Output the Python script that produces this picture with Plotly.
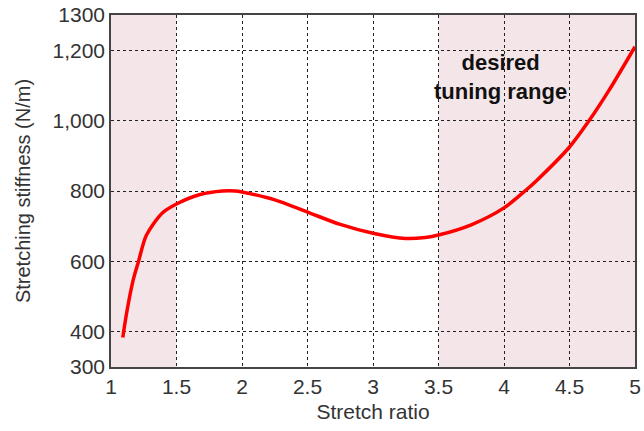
import plotly.graph_objects as go

# Curve data
stretch_ratio = [1.09, 1.12, 1.17, 1.21, 1.27, 1.39, 1.5, 1.68, 1.85, 1.95, 2.0, 2.25, 2.5,
                 2.75, 3.0, 3.25, 3.4, 3.5, 3.75, 4.0, 4.16, 4.25, 4.5, 4.65, 4.8, 5.0]
stiffness = [384, 455, 548, 600, 674, 737, 763, 790, 800, 800, 797, 775, 740,
             705, 680, 665, 668, 675, 704, 752, 800, 830, 925, 1000, 1085, 1210]

shade_ranges = [(1.0, 1.5), (3.5, 5.0)]

x_ticks = [1, 1.5, 2, 2.5, 3, 3.5, 4, 4.5, 5]
x_tick_text = ["1", "1.5", "2", "2.5", "3", "3.5", "4", "4.5", "5"]
y_ticks = [300, 400, 600, 800, 1000, 1200, 1300]
y_tick_text = ["300", "400", "600", "800", "1,000", "1,200", "1300"]

annotation_text = "<b>desired<br>tuning range</b>"
annotation_pos = (3.97, 1124)

font_family = "Liberation Sans, Arial, sans-serif"

fig = go.Figure()
fig.add_trace(go.Scatter(x=stretch_ratio, y=stiffness, mode="lines",
                         line=dict(color="#ff0000", width=3.5, shape="spline", smoothing=0.8),
                         showlegend=False))

for x0, x1 in shade_ranges:
    fig.add_shape(type="rect", xref="x", yref="paper", x0=x0, x1=x1, y0=0, y1=1,
                  fillcolor="#f4e6e8", line=dict(width=0), layer="below")

fig.add_annotation(x=annotation_pos[0], y=annotation_pos[1], text=annotation_text,
                   showarrow=False, font=dict(family=font_family, size=22, color="#111"),
                   align="center")

axis_common = dict(showline=True, linecolor="#444", linewidth=1.5, mirror=True,
                   showgrid=True, gridcolor="#222", gridwidth=1, griddash="3px,3px",
                   zeroline=False, ticks="", automargin=False, ticklabeloverflow="allow",
                   tickfont=dict(family=font_family, size=21, color="#333"))

fig.update_xaxes(range=[1, 5], tickvals=x_ticks, ticktext=x_tick_text,
                 title=dict(text="Stretch ratio", font=dict(family=font_family, size=21, color="#333"), standoff=7),
                 **axis_common)
fig.update_yaxes(range=[300, 1300], tickvals=y_ticks, ticktext=y_tick_text,
                 title=dict(text="Stretching stiffness (N/m)", font=dict(family=font_family, size=20, color="#333"), standoff=16),
                 **axis_common)

fig.update_layout(width=644, height=431, margin=dict(l=111, r=9, t=15, b=64),
                  plot_bgcolor="white", paper_bgcolor="white")

fig.write_html("out.html", config={"displayModeBar": False},
               post_script="document.body.style.margin='0';")
